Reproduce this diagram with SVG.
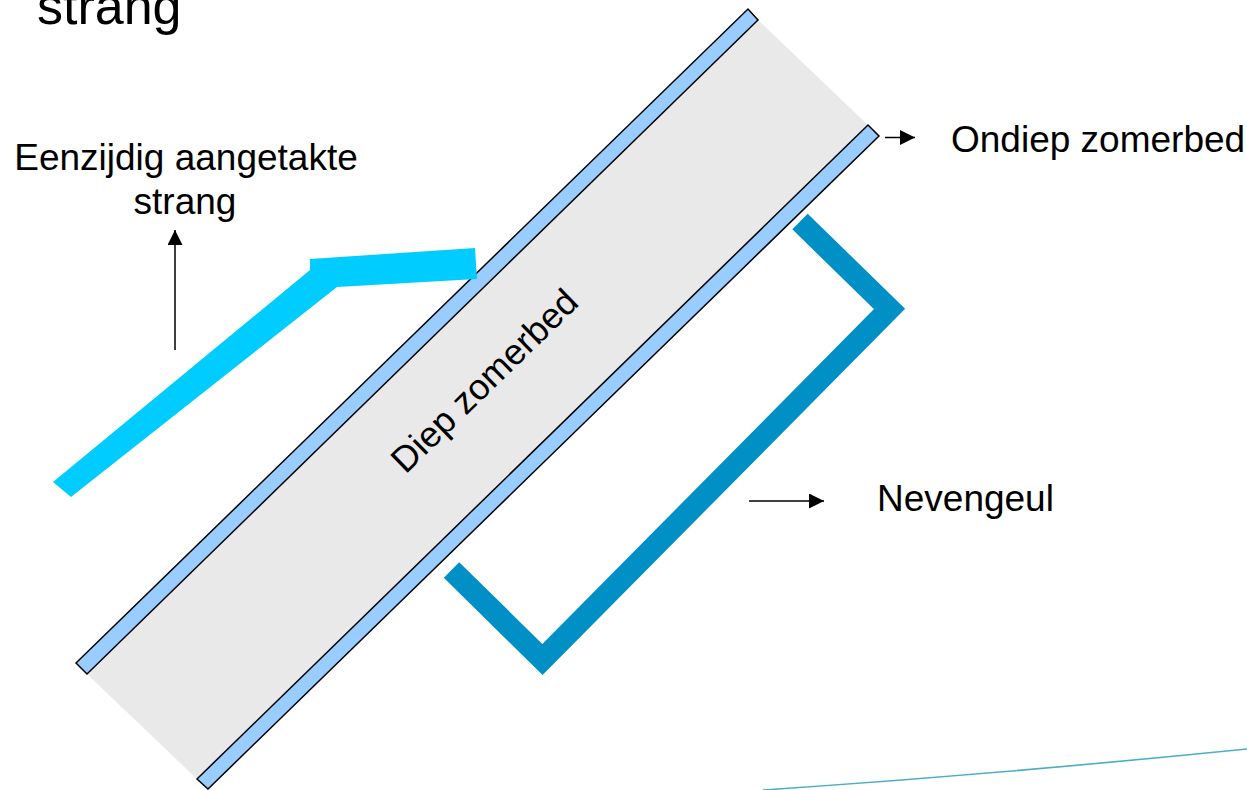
<svg xmlns="http://www.w3.org/2000/svg" width="1247" height="790" viewBox="0 0 1247 790">
<style>
.lbl{font-family:"Liberation Sans",Arial,sans-serif;font-size:37px;fill:#000}
.band{fill:#99ccff;stroke:#000;stroke-width:1.5;stroke-linejoin:miter}
.conn{stroke:#000;stroke-width:1.5;fill:none}
</style>
<defs>
<marker id="ah" markerUnits="userSpaceOnUse" markerWidth="15" markerHeight="15" refX="15" refY="7.5" orient="auto" viewBox="0 0 15 15">
<path d="M0,0 L15,7.5 L0,15 z" fill="#000"/>
</marker>
</defs>
<rect width="1247" height="790" fill="#fff"/>
<text class="lbl" x="37" y="24" style="font-size:52px">strang</text>
<g id="zomerbed">
<polygon points="87,674 758,20 868,125 197,779" fill="#e9e9e9"/>
<polygon class="band" points="76,663 748,9 758,20 87,674"/>
<polygon class="band" points="197,779 868,125 879,136 208,789"/>
<text class="lbl" text-anchor="middle" style="font-size:36px" transform="translate(493,389.5) rotate(-44.26)">Diep zomerbed</text>
</g>
<g id="strang">
<polygon points="53,482 310,270 310,259 475,248 477,279 337,287 71,497" fill="#00ccff"/>
</g>
<g id="nevengeul">
<polyline points="800,221.5 889.5,309 542.5,659.5 451.5,570" fill="none" stroke="#0090c6" stroke-width="22" stroke-linejoin="miter" stroke-miterlimit="10"/>
</g>
<g id="curve">
<path d="M763,790 Q1000,774 1247,749" fill="none" stroke="#4aaec4" stroke-width="1.6"/>
</g>
<g id="connectors">
<line class="conn" x1="885" y1="137.5" x2="915" y2="137.5" marker-end="url(#ah)"/>
<line class="conn" x1="749" y1="501" x2="824" y2="501" marker-end="url(#ah)"/>
<line class="conn" x1="175" y1="350" x2="175" y2="230" marker-end="url(#ah)"/>
</g>
<g id="labels">
<text class="lbl" x="186" y="170" text-anchor="middle">Eenzijdig aangetakte</text>
<text class="lbl" x="185" y="214" text-anchor="middle">strang</text>
<text class="lbl" x="951" y="152">Ondiep zomerbed</text>
<text class="lbl" x="877" y="511">Nevengeul</text>
</g>
</svg>
